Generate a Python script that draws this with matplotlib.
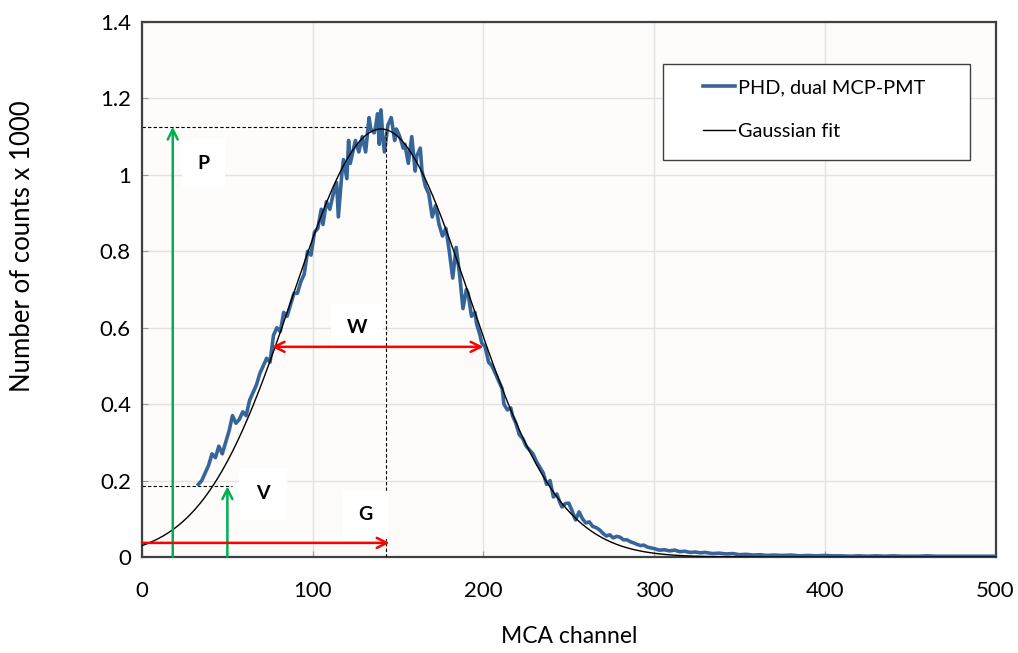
import numpy as np
import matplotlib
matplotlib.use('Agg')
import matplotlib.pyplot as plt
from matplotlib.patches import Rectangle

plt.rcParams['font.family'] = ['Lato', 'DejaVu Sans']

# measured pulse height distribution (MCA channel, counts x 1000)
phd_channel = [33, 35, 37, 39, 41, 43, 45, 47, 49, 51, 53, 55, 57, 59, 61, 63, 65, 67, 69, 71,
               73, 75, 77, 79, 81, 83, 85, 87, 89, 91, 93, 95, 97, 99, 101, 103, 105, 106, 108, 110,
               112, 114, 115, 117, 118, 120, 121, 122, 124, 125, 127, 128, 129, 131, 133, 134, 136, 137, 138, 139,
               140, 141, 142, 144, 146, 148, 149, 151, 153, 154, 156, 158, 160, 161, 163, 164, 166, 168, 170, 172,
               174, 176, 178, 180, 182, 184, 186, 188, 190, 191, 193, 195, 196, 198, 199, 201, 203, 205, 207, 209,
               211, 212, 214, 216, 217, 219, 221, 223, 225, 227, 229, 231, 233, 235, 237, 239, 241, 243, 245, 246,
               248, 250, 252, 254, 256, 258, 260, 262, 264, 266, 268, 270, 272, 274, 276, 278, 280, 282, 284, 286,
               288, 290, 292, 294, 296, 298, 300, 303, 306, 309, 312, 315, 318, 321, 324, 327, 330, 334, 338, 342,
               346, 350, 354, 358, 362, 366, 370, 375, 380, 385, 390, 395, 400, 405, 410, 415, 420, 425, 430, 435,
               440, 445, 450, 455, 460, 465, 470, 475, 480, 485, 490, 495, 500]
phd_counts = [0.19, 0.20, 0.22, 0.24, 0.27, 0.26, 0.29, 0.27, 0.30, 0.33, 0.37, 0.35, 0.36, 0.38, 0.37, 0.41, 0.43, 0.45, 0.48, 0.50,
              0.52, 0.51, 0.58, 0.60, 0.59, 0.64, 0.63, 0.66, 0.69, 0.69, 0.72, 0.74, 0.80, 0.79, 0.85, 0.86, 0.91, 0.87, 0.93, 0.91,
              0.95, 0.98, 0.89, 1.00, 1.04, 0.99, 1.09, 1.03, 1.07, 1.09, 1.06, 1.08, 1.10, 1.06, 1.15, 1.12, 1.11, 1.13, 1.16, 1.08,
              1.17, 1.10, 1.06, 1.13, 1.15, 1.09, 1.12, 1.10, 1.07, 1.08, 1.03, 1.10, 1.01, 1.05, 1.07, 1.01, 0.97, 0.95, 0.89, 0.92,
              0.87, 0.84, 0.86, 0.80, 0.73, 0.81, 0.74, 0.65, 0.70, 0.69, 0.63, 0.64, 0.61, 0.58, 0.56, 0.55, 0.51, 0.50, 0.48, 0.46,
              0.44, 0.40, 0.385, 0.39, 0.37, 0.35, 0.32, 0.31, 0.29, 0.28, 0.27, 0.25, 0.235, 0.22, 0.19, 0.20, 0.157, 0.165, 0.14, 0.131,
              0.14, 0.141, 0.12, 0.097, 0.118, 0.10, 0.089, 0.092, 0.08, 0.077, 0.071, 0.062, 0.055, 0.058, 0.050, 0.054, 0.052, 0.045, 0.045, 0.040,
              0.037, 0.033, 0.030, 0.031, 0.026, 0.024, 0.022, 0.018, 0.019, 0.016, 0.018, 0.014, 0.015, 0.012, 0.013, 0.011, 0.012, 0.009, 0.010, 0.008,
              0.009, 0.006, 0.007, 0.005, 0.006, 0.004, 0.005, 0.004, 0.005, 0.003, 0.004, 0.003, 0.004, 0.003, 0.003, 0.002, 0.003, 0.002, 0.003, 0.002,
              0.003, 0.002, 0.002, 0.002, 0.003, 0.002, 0.002, 0.002, 0.002, 0.002, 0.002, 0.002, 0.002]

# Gaussian fit parameters
fit_amp = 1.12
fit_mean = 140
fit_sigma = 52

# annotation values
peak_level = 1.126     # P
peak_pos = 143         # G
valley_level = 0.185   # V
valley_pos = 50
half_level = 0.55      # W
half_left = 76
half_right = 200

xticks = [0, 100, 200, 300, 400, 500]
yticks = [0, 0.2, 0.4, 0.6, 0.8, 1, 1.2, 1.4]
ytick_labels = ['0', '0.2', '0.4', '0.6', '0.8', '1', '1.2', '1.4']

fig = plt.figure(figsize=(10.18, 6.53), dpi=100)
ax = fig.add_axes([0.1395, 0.147, 0.8385, 0.8193])
ax.set_facecolor('#fdfcfa')

fit_x = np.linspace(0, 500, 501)
fit_y = fit_amp * np.exp(-(fit_x - fit_mean) ** 2 / (2 * fit_sigma ** 2))

ax.plot(phd_channel, phd_counts, color='#36659a', lw=2.6, label='PHD, dual MCP-PMT', zorder=3)
ax.plot(fit_x, fit_y, color='black', lw=1.0, label='Gaussian fit', zorder=4)

# dashed guide lines
ax.plot([0, 132], [peak_level, peak_level], color='black', lw=0.8, ls=(0, (3, 2)), zorder=2)
ax.plot([peak_pos, peak_pos], [0, 1.118], color='black', lw=0.8, ls=(0, (3, 2)), zorder=5)
ax.plot([0, 53], [valley_level, valley_level], color='black', lw=0.8, ls=(0, (3, 2)), zorder=2)

green = '#00b050'
red = '#ff0000'
ax.annotate('', xy=(18, peak_level), xytext=(18, 0),
            arrowprops=dict(arrowstyle='->', color=green, lw=1.8, mutation_scale=18, shrinkA=0, shrinkB=0), zorder=6)
ax.annotate('', xy=(valley_pos, valley_level), xytext=(valley_pos, 0),
            arrowprops=dict(arrowstyle='->', color=green, lw=1.8, mutation_scale=18, shrinkA=0, shrinkB=0), zorder=6)
ax.annotate('', xy=(145, 0.037), xytext=(0, 0.037),
            arrowprops=dict(arrowstyle='->', color=red, lw=1.8, mutation_scale=18, shrinkA=0, shrinkB=0), zorder=6)
ax.annotate('', xy=(half_right, half_level), xytext=(half_left, half_level),
            arrowprops=dict(arrowstyle='<->', color=red, lw=1.8, mutation_scale=18, shrinkA=0, shrinkB=0), zorder=6)

box = dict(boxstyle='square,pad=0.8', facecolor='white', edgecolor='none')
ax.text(36, 1.03, 'P', fontsize=14, fontweight='bold', ha='center', va='center', bbox=box, zorder=5)
ax.text(67, 0.165, 'V', fontsize=14, fontweight='bold', ha='left', va='center',
        bbox=dict(boxstyle='square,pad=0.9', facecolor='white', edgecolor='none'), zorder=5)
ax.text(131, 0.11, 'G', fontsize=14, fontweight='bold', ha='center', va='center', bbox=box, zorder=5)
ax.text(126, 0.60, 'W', fontsize=14, fontweight='bold', ha='center', va='center', bbox=box, zorder=5)

ax.set_xlim(0, 500)
ax.set_ylim(0, 1.4)
ax.set_xticks(xticks)
ax.set_yticks(yticks)
ax.set_yticklabels(ytick_labels)
ax.tick_params(labelsize=16, direction='in', length=4, color='#999999')
ax.tick_params(axis='x', pad=17)
ax.tick_params(axis='y', pad=8)
ax.grid(True, color='#e2e2e2', lw=1.0, zorder=0)
ax.set_axisbelow(True)
for s in ax.spines.values():
    s.set_color('#404040')
    s.set_linewidth(1.6)

ax.set_xlabel('MCA channel', fontsize=16.5, va='center')
ax.xaxis.set_label_coords(0.5, -0.148)
ax.set_ylabel('Number of counts x 1000', fontsize=18.5, va='center')
ax.yaxis.set_label_coords(-0.1405, 0.581)

# legend with a hand-placed frame
ax.add_patch(Rectangle((0.610, 0.742), 0.3596, 0.1795, transform=ax.transAxes,
                       facecolor='white', edgecolor='#404040', lw=1.0, zorder=7))
leg = ax.legend(loc='upper left', bbox_to_anchor=(0.657, 0.893), fontsize=14.3, frameon=False,
                handlelength=1.6, handletextpad=0.15, borderpad=0, labelspacing=1.35, borderaxespad=0)
leg.set_zorder(8)

fig.savefig('out.png', dpi=100, facecolor='white')
